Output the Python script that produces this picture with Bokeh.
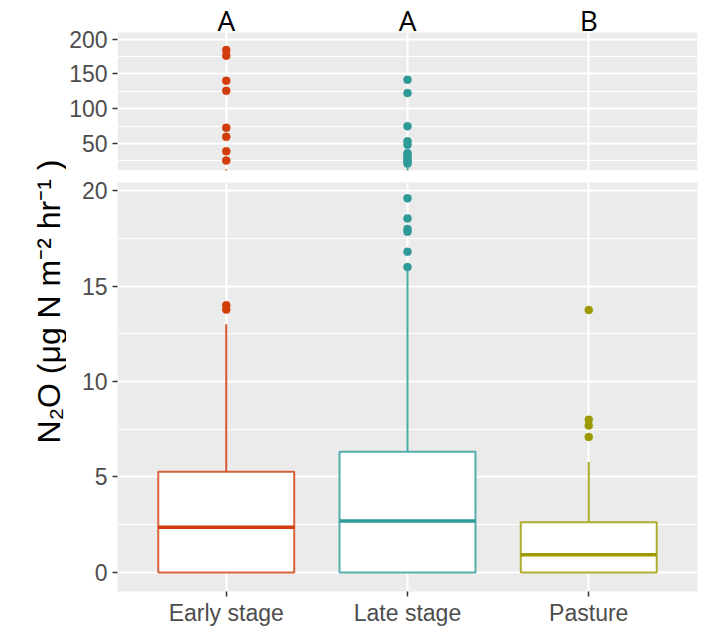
import numpy as np
from bokeh.plotting import figure
from bokeh.layouts import row, column
from bokeh.models import Range1d, FixedTicker, Label, ColumnDataSource, BoxAnnotation
from bokeh.core.properties import value
from bokeh.embed import file_html
from bokeh.resources import INLINE

# ---- data ----
categories = ["Early stage", "Late stage", "Pasture"]
letters = ["A", "A", "B"]
colors = ["#D03C0A", "#2E9A98", "#9C9A00"]
q1 = [0.0, 0.0, 0.0]
medians = [2.37, 2.69, 0.93]
q3 = [5.27, 6.32, 2.63]
whisker_hi = [13.0, 15.8, 5.78]
early_out = [13.77, 14.0, 25.4, 38.8, 59.5, 72.5, 125.6, 140.0, 176.2, 184.4]
late_out = [16.0, 16.8, 17.85, 18.0, 18.55, 19.6, 21.0, 24.0, 27.0, 30.0, 33.0,
            36.0, 48.3, 53.0, 74.7, 122.4, 141.5]
pasture_out = [7.1, 7.7, 8.0, 13.75]
lower_lim = (-1.0, 20.43)
upper_lim = (11.1, 209.5)
lower_ticks = [0, 5, 10, 15, 20]
lower_minor = [2.5, 7.5, 12.5, 17.5]
upper_ticks = [50, 100, 150, 200]
upper_minor = [25, 75, 125, 175]
y_title = "N\u2082O (\u03bcg N m\u207b\u00b2 hr\u207b\u00b9 )"

PANEL_BG = "#EBEBEB"

xs = np.arange(1, len(categories) + 1, dtype=float)
box_w = 0.75
box_src = ColumnDataSource(dict(
    x=xs, q1=q1, q3=q3, med=medians, hi=whisker_hi,
    x0=xs - box_w / 2, x1=xs + box_w / 2, color=colors))


def outlier_source(min_value):
    ox, oy, oc = [], [], []
    for i, vals in enumerate([early_out, late_out, pasture_out]):
        for v in vals:
            if v > min_value:
                ox.append(xs[i])
                oy.append(v)
                oc.append(colors[i])
    return ColumnDataSource(dict(x=ox, y=oy, color=oc))


TICK_FONT = "Liberation Sans"
PANEL_W = 640
B_LEFT = 49
B_RIGHT = 9
x_range = Range1d(0.4, 3.6)

# upper panel: 138 px of data area plus a 32 px strip above it for the letters
UP_FRAME = 138
STRIP = 32
up_units_per_px = (upper_lim[1] - upper_lim[0]) / UP_FRAME
upper_view = (upper_lim[0], upper_lim[1] + STRIP * up_units_per_px)


def make_panel(yr, ticks, minor, frame_h, b_top, b_bot, show_x, draw_box, out_src, bg):
    p = figure(width=PANEL_W, height=b_top + frame_h + b_bot,
               x_range=x_range, y_range=Range1d(*yr),
               output_backend="svg", toolbar_location=None,
               min_border_left=B_LEFT, min_border_right=B_RIGHT,
               min_border_top=b_top, min_border_bottom=b_bot,
               x_axis_location="below" if show_x else None)
    p.background_fill_color = bg
    p.border_fill_color = "white"
    p.outline_line_color = None
    p.ygrid.ticker = FixedTicker(ticks=ticks, minor_ticks=minor)
    p.ygrid.grid_line_color = "white"
    p.ygrid.grid_line_width = 2
    p.ygrid.minor_grid_line_color = "white"
    p.ygrid.minor_grid_line_width = 1.2
    p.xgrid.ticker = FixedTicker(ticks=list(xs))
    p.xgrid.grid_line_color = "white"
    p.xgrid.grid_line_width = 2

    axes = list(p.yaxis) + (list(p.xaxis) if show_x else [])
    for ax in axes:
        ax.axis_line_color = None
        ax.major_tick_line_color = "#333333"
        ax.major_tick_line_width = 1.5
        ax.major_tick_out = 5
        ax.major_tick_in = 0
        ax.minor_tick_line_color = None
        ax.major_label_text_font = TICK_FONT
        ax.major_label_text_font_size = "23px"
        ax.major_label_text_color = "#4D4D4D"
        ax.major_label_standoff = 5
    p.yaxis.ticker = FixedTicker(ticks=ticks)
    if show_x:
        p.xaxis.ticker = FixedTicker(ticks=list(xs))
        p.xaxis.major_label_overrides = {float(x): c for x, c in zip(xs, categories)}
        p.xaxis.major_label_standoff = 3

    p.segment(x0="x", y0="q3", x1="x", y1="hi", source=box_src,
              line_color="color", line_width=2, line_alpha=0.85)
    if draw_box:
        p.vbar(x="x", width=box_w, bottom="q1", top="q3", source=box_src,
               fill_color="white", line_color="color", line_width=2, line_alpha=0.8)
        p.segment(x0="x0", y0="med", x1="x1", y1="med", source=box_src,
                  line_color="color", line_width=3.5)
    p.scatter(x="x", y="y", source=out_src, size=8, fill_color="color",
              line_color="color", line_width=0.5)
    return p


upper = make_panel(upper_view, upper_ticks, upper_minor, UP_FRAME + STRIP, 0, 6,
                   False, False, outlier_source(lower_lim[1]), "white")
# grey panel background (drawn beneath the grid), leaving a white strip on top
upper.add_layout(BoxAnnotation(top=upper_lim[1], fill_color=PANEL_BG, fill_alpha=1.0,
                               line_color=None, level="image"))
upper.text(x=xs, y=upper_lim[1] + 12.5 * up_units_per_px, text=letters,
           text_align="center", text_baseline="middle",
           text_font=value("Open Sans"), text_font_size=value("28px"), text_color="black")

lower = make_panel(lower_lim, lower_ticks, lower_minor, 409, 6, 45, True, True,
                   outlier_source(lower_lim[0]), PANEL_BG)

# y axis title spanning both panels
TW = 706 - PANEL_W
tfig = figure(width=TW, height=636, x_range=Range1d(0, TW), y_range=Range1d(0, 636),
              output_backend="svg", toolbar_location=None, min_border=0,
              x_axis_location=None, y_axis_location=None)
tfig.grid.visible = False
tfig.outline_line_color = None
tfig.background_fill_color = "white"
tfig.add_layout(Label(x=48, y=335, text=y_title, angle=np.pi / 2,
                      text_align="center", text_baseline="middle",
                      text_font="Liberation Sans", text_font_size="32px",
                      text_color="black"))

layout = row(tfig, column(upper, lower))
open("out.html", "w").write(file_html(layout, INLINE))
